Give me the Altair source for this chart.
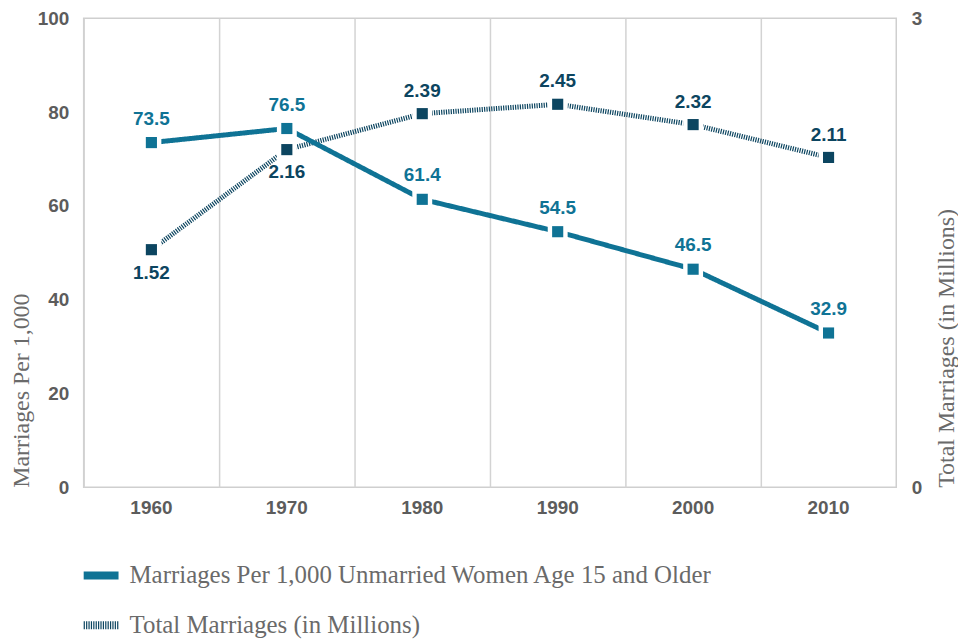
import altair as alt
import pandas as pd

years = ["1960", "1970", "1980", "1990", "2000", "2010"]
rate = [73.5, 76.5, 61.4, 54.5, 46.5, 32.9]
total = [1.52, 2.16, 2.39, 2.45, 2.32, 2.11]
total_label_pos = ["below", "below", "above", "above", "above", "above"]

rate_name = "Marriages Per 1,000 Unmarried Women Age 15 and Older"
total_name = "Total Marriages (in Millions)"
series_names = [rate_name, total_name]

TEAL = "#0f7395"
NAVY = "#0c4560"
SANS = "Liberation Sans"
SERIF = "Liberation Serif"

df_rate = pd.DataFrame({"year": years, "value": rate, "series": rate_name})
df_total = pd.DataFrame({"year": years, "value": total, "series": total_name,
                         "pos": total_label_pos})

xscale = alt.Scale(type="band", domain=years, paddingInner=0, paddingOuter=0)

def X(axis=None):
    if axis is None:
        return alt.X("year:O", scale=xscale, bandPosition=0.5, axis=None)
    return alt.X("year:O", scale=xscale, bandPosition=0.5, axis=axis)

grid_axis = alt.Axis(orient="bottom", grid=True, gridColor="#d3d3d3", gridWidth=1.5,
                     labels=False, ticks=False, domain=False, bandPosition=0, title=None)
label_axis = alt.Axis(orient="bottom", grid=False, ticks=False, domain=False, labelAngle=0,
                      labelFont=SANS, labelFontSize=19, labelFontWeight="bold",
                      labelColor="#5c5c5c", labelPadding=11, title=None)

rscale = alt.Scale(domain=[0, 100])
tscale = alt.Scale(domain=[0, 3])

left_axis = alt.Axis(values=[0, 20, 40, 60, 80, 100], grid=False, ticks=False, domain=False,
                     labelFont=SANS, labelFontSize=19, labelFontWeight="bold",
                     labelColor="#5c5c5c", labelPadding=15,
                     title="Marriages Per 1,000", titleFont=SERIF, titleFontSize=24,
                     titleFontWeight="normal", titleColor="#6a6a6a", titleAnchor="start",
                     titlePadding=4)
right_axis = alt.Axis(values=[0, 3], orient="right", grid=False, ticks=False, domain=False,
                      labelFont=SANS, labelFontSize=19, labelFontWeight="bold",
                      labelColor="#5c5c5c", labelPadding=15,
                      title="Total Marriages (in Millions)", titleFont=SERIF, titleFontSize=24,
                      titleFontWeight="normal", titleColor="#6a6a6a", titleAnchor="start",
                      titleAngle=270, titlePadding=37)

color = alt.Color("series:N", scale=alt.Scale(domain=series_names, range=[TEAL, NAVY]),
                  legend=alt.Legend(title=None))
dash = alt.StrokeDash("series:N",
                      scale=alt.Scale(domain=series_names, range=[[1, 0], [1.2, 1.2]]),
                      legend=alt.Legend(title=None))

total_line = alt.Chart(df_total).mark_line(strokeWidth=5).encode(
    x=X(grid_axis),
    y=alt.Y("value:Q", scale=tscale, axis=right_axis),
    color=color, strokeDash=dash,
)
rate_line = alt.Chart(df_rate).mark_line(strokeWidth=5).encode(
    x=X(label_axis),
    y=alt.Y("value:Q", scale=rscale, axis=left_axis),
    color=color, strokeDash=dash,
)

def squares(df, scale, fill):
    halo = alt.Chart(df).mark_square(size=400, opacity=1, fill="white").encode(
        x=X(), y=alt.Y("value:Q", scale=scale, axis=None))
    sq = alt.Chart(df).mark_square(size=125, opacity=1, fill=fill).encode(
        x=X(), y=alt.Y("value:Q", scale=scale, axis=None))
    return halo, sq

th, ts = squares(df_total, tscale, NAVY)
rh, rs = squares(df_rate, rscale, TEAL)

txt = dict(font=SANS, fontSize=19, fontWeight="bold", baseline="middle", align="center")
rate_txt = alt.Chart(df_rate).mark_text(dy=-24, color=TEAL, **txt).encode(
    x=X(), y=alt.Y("value:Q", scale=rscale, axis=None),
    text=alt.Text("value:Q", format=".1f"))
total_txt_up = alt.Chart(df_total).transform_filter(alt.datum.pos == "above").mark_text(
    dy=-23, color=NAVY, **txt).encode(
    x=X(), y=alt.Y("value:Q", scale=tscale, axis=None),
    text=alt.Text("value:Q", format=".2f"))
total_txt_dn = alt.Chart(df_total).transform_filter(alt.datum.pos == "below").mark_text(
    dy=23, color=NAVY, **txt).encode(
    x=X(), y=alt.Y("value:Q", scale=tscale, axis=None),
    text=alt.Text("value:Q", format=".2f"))

chart = alt.layer(
    total_line, rate_line, th, rh, ts, rs, rate_txt, total_txt_up, total_txt_dn
).resolve_scale(y="independent").resolve_axis(x="independent").properties(
    width=816, height=471,
    autosize=alt.AutoSizeParams(type="none"),
    padding={"left": 76, "top": 9, "right": 62, "bottom": 152},
).configure_view(stroke="#cfcfcf", strokeWidth=1.5).configure_legend(
    orient="none", legendX=-4, legendY=538, direction="vertical",
    symbolType="stroke", symbolSize=1225, symbolStrokeWidth=8,
    labelFont=SERIF, labelFontSize=25, labelColor="#6a6a6a", labelOffset=7,
    rowPadding=12, labelLimit=800,
)

chart.save("out.html", embed_options={"renderer": "svg", "actions": False})
